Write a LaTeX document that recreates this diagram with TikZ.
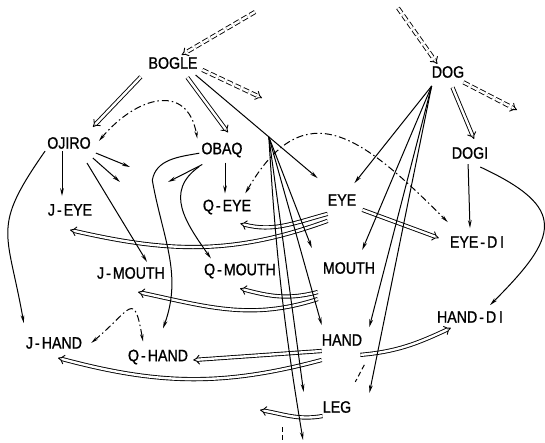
\documentclass[tikz,border=0pt]{standalone}
\usepackage{fontspec}
\setmainfont{Liberation Sans}[FakeStretch=0.86,FakeBold=1]
\usepackage{tikz}
\usetikzlibrary{arrows.meta}
\newcommand{\dsh}{\kern2pt-\kern2pt}
\tikzset{
  every picture/.style={font=\fontsize{16.5}{18}\selectfont},
  sem term/.style={inner sep=2pt},
  sem part/.style={-{Stealth[length=2.8mm,width=1.3mm]}, line width=1pt},
  sem map/.style={double, double distance=2.4pt, line width=0.9pt, -{Implies}},
  sem inherit/.style={sem map, dash pattern=on 6pt off 3pt},
  sem match/.style={line width=1pt, dash pattern=on 7pt off 3pt on 1.5pt off 3pt,
    {Stealth[length=2.6mm,width=1.2mm]}-{Stealth[length=2.6mm,width=1.2mm]}},
  sem stub/.style={line width=1pt, dash pattern=on 5pt off 3pt}
}

\begin{document}
\begin{tikzpicture}[x=1pt,y=1pt]
  \useasboundingbox (0,0) rectangle (545,-443);
  % concepts
  \node[sem term] (bogle)  at (173,-63)  {BOGLE};
  \node[sem term] (dog)    at (448,-72)  {DOG};
  \node[sem term] (ojiro)  at (69,-143)  {OJIRO};
  \node[sem term] (obaq)   at (222,-150) {OBAQ};
  \node[sem term] (dogi)   at (470,-153) {DOGI};
  \node[sem term] (jeye)   at (70,-210)  {J\dsh EYE};
  \node[sem term] (qeye)   at (227,-207) {Q\dsh EYE};
  \node[sem term] (eye)    at (342,-200) {EYE};
  \node[sem term] (eyedi)  at (477,-242) {EYE\dsh D\,I};
  \node[sem term] (jmouth) at (131,-273) {J\dsh MOUTH};
  \node[sem term] (qmouth) at (240,-271) {Q\dsh MOUTH};
  \node[sem term] (mouth)  at (349,-268) {MOUTH};
  \node[sem term] (handdi) at (470,-317) {HAND\dsh D\,I};
  \node[sem term] (hand)   at (342,-340) {HAND};
  \node[sem term] (leg)    at (337,-407) {LEG};
  \node[sem term] (jhand)  at (54,-343)  {J\dsh HAND};
  \node[sem term] (qhand)  at (158,-357) {Q\dsh HAND};
  % free ends
  \coordinate (in1) at (255,-12);
  \coordinate (out1) at (262,-98);
  \coordinate (in2) at (398,-8);
  \coordinate (out2) at (517,-110);
  \coordinate (oj1) at (130,-167);
  \coordinate (oj2) at (120,-182);
  \coordinate (ob1) at (168,-182);
  \coordinate (legout) at (260,-410);
  \coordinate (bot) at (303,-440);

  % inheritance
  \draw[sem inherit] (in1) -- (bogle.43);
  \draw[sem inherit,shorten <=3pt] (bogle.-12) -- (out1);
  \draw[sem inherit] (in2) -- (dog.143);
  \draw[sem inherit,shorten <=5pt] (dog.-36) -- (out2);

  % mappings
  \draw[sem map,shorten <=8pt] (bogle.south west) -- ([shift={(0,8)}]ojiro.north east);
  \draw[sem map,shorten <=8pt] (bogle.-40) -- ([shift={(6,8)}]obaq.north);
  \draw[sem map,shorten <=8pt] (dog.-80) -- ([shift={(4,6)}]dogi.north);
  \draw[sem map] ([shift={(4,-2)}]eye.south east) -- ([shift={(-9,4)}]eyedi.west);
  \draw[sem map] ([shift={(2,-6)}]eye.south west) to[out=195,in=-15] ([shift={(-13,-7)}]qeye.south east);
  \draw[sem map] ([shift={(2,-13)}]eye.south west) to[out=200,in=-13] ([shift={(0,-12)}]jeye.south);
  \draw[sem map] ([shift={(-3,-16)}]mouth.south west) to[out=195,in=-15] ([shift={(0,-8)}]qmouth.south);
  \draw[sem map] ([shift={(-3,-23)}]mouth.south west) to[out=198,in=-12] ([shift={(7,-11)}]jmouth.south);
  \draw[sem map] ([shift={(2,-11)}]hand.west) -- ([shift={(3,-3)}]qhand.east);
  \draw[sem map] ([shift={(2,-20)}]hand.west) to[out=195,in=-15] ([shift={(4,-7)}]jhand.south);
  \draw[sem map] ([shift={(-4,-7)}]hand.south east) to[out=5,in=205] ([shift={(16,-3)}]handdi.south west);
  \draw[sem map] ([shift={(2,-1)}]leg.south west) to[out=190,in=-10] (legout);

  % parts
  \draw[sem part] ([xshift=-7pt]ojiro.south) -- ([shift={(-8,6)}]jeye.north);
  \draw[sem part,looseness=1.4] (ojiro.south west) to[out=235,in=100] ([yshift=12pt]jhand.north west);
  \draw[sem part] ([shift={(18,-12)}]ojiro.south) -- ([shift={(16,3)}]jmouth.north);
  \draw[sem part] ([shift={(3,-2)}]ojiro.south east) -- (oj1);
  \draw[sem part] ([shift={(0,-7)}]ojiro.south east) -- (oj2);
  \draw[sem part,shorten <=3pt] ([xshift=3pt]obaq.south) -- ([shift={(-2,4)}]qeye.north);
  \draw[sem part] ([shift={(3,-5)}]obaq.south west) -- (ob1);
  \draw[sem part,looseness=1.2] ([shift={(0,-7)}]obaq.south west) to[out=215,in=125] ([shift={(9,3)}]qmouth.north west);
  \draw[sem part] (obaq.188) to[out=190,in=80] ++(-47,-27) to[out=-80,in=70] ([shift={(5,19)}]qhand.north);
  \draw[sem part] ([shift={(-4,-4)}]bogle.south east) -- coordinate[pos=0.6] (fork) ([shift={(-8,14)}]eye.north west);
  \draw[sem part] (fork) -- ([shift={(-9,12)}]mouth.north west);
  \draw[sem part] (fork) -- ([shift={(2,7)}]hand.north west);
  \draw[sem part] (fork) -- ([shift={(-17,7)}]leg.north west);
  \draw[sem part] (fork) to[bend right=3] (bot);
  \draw[sem part] ([shift={(2,-6)}]dog.south west) -- ([shift={(-4,9)}]eye.north east);
  \draw[sem part] ([shift={(2,-6)}]dog.south west) -- ([shift={(-15,10)}]mouth.north east);
  \draw[sem part] ([shift={(2,-6)}]dog.south west) -- ([shift={(5,5)}]hand.north east);
  \draw[sem part] ([shift={(2,-6)}]dog.south west) -- ([shift={(16,6)}]leg.north east);
  \draw[sem part,shorten <=3pt] ([xshift=-2pt]dogi.south) -- ([shift={(-7,6)}]eyedi.north);
  \draw[sem part,looseness=1.8] ([shift={(-10,-6)}]dogi.south east) to[out=-25,in=45] ([shift={(20,4)}]handdi.north);

  % correspondences
  \draw[sem match,looseness=1.5] ([shift={(6,2)}]ojiro.east) to[out=50,in=100] ([shift={(-2,2)}]obaq.north west);
  \draw[sem match,looseness=2.6] ([xshift=7pt]jhand.east) to[out=40,in=100] ([shift={(-15,6)}]qhand.north);
  \draw[sem match,looseness=1.5] ([shift={(-8,4)}]qeye.north east) to[out=60,in=135] ([shift={(0,12)}]eyedi.north west);

  % stubs
  \draw[sem stub] ([shift={(0,-17)}]hand.south east) -- ++(-9,-17);
  \draw[sem stub] ([shift={(-55,-12)}]leg.south) -- ++(0,-16);
\end{tikzpicture}
\end{document}
